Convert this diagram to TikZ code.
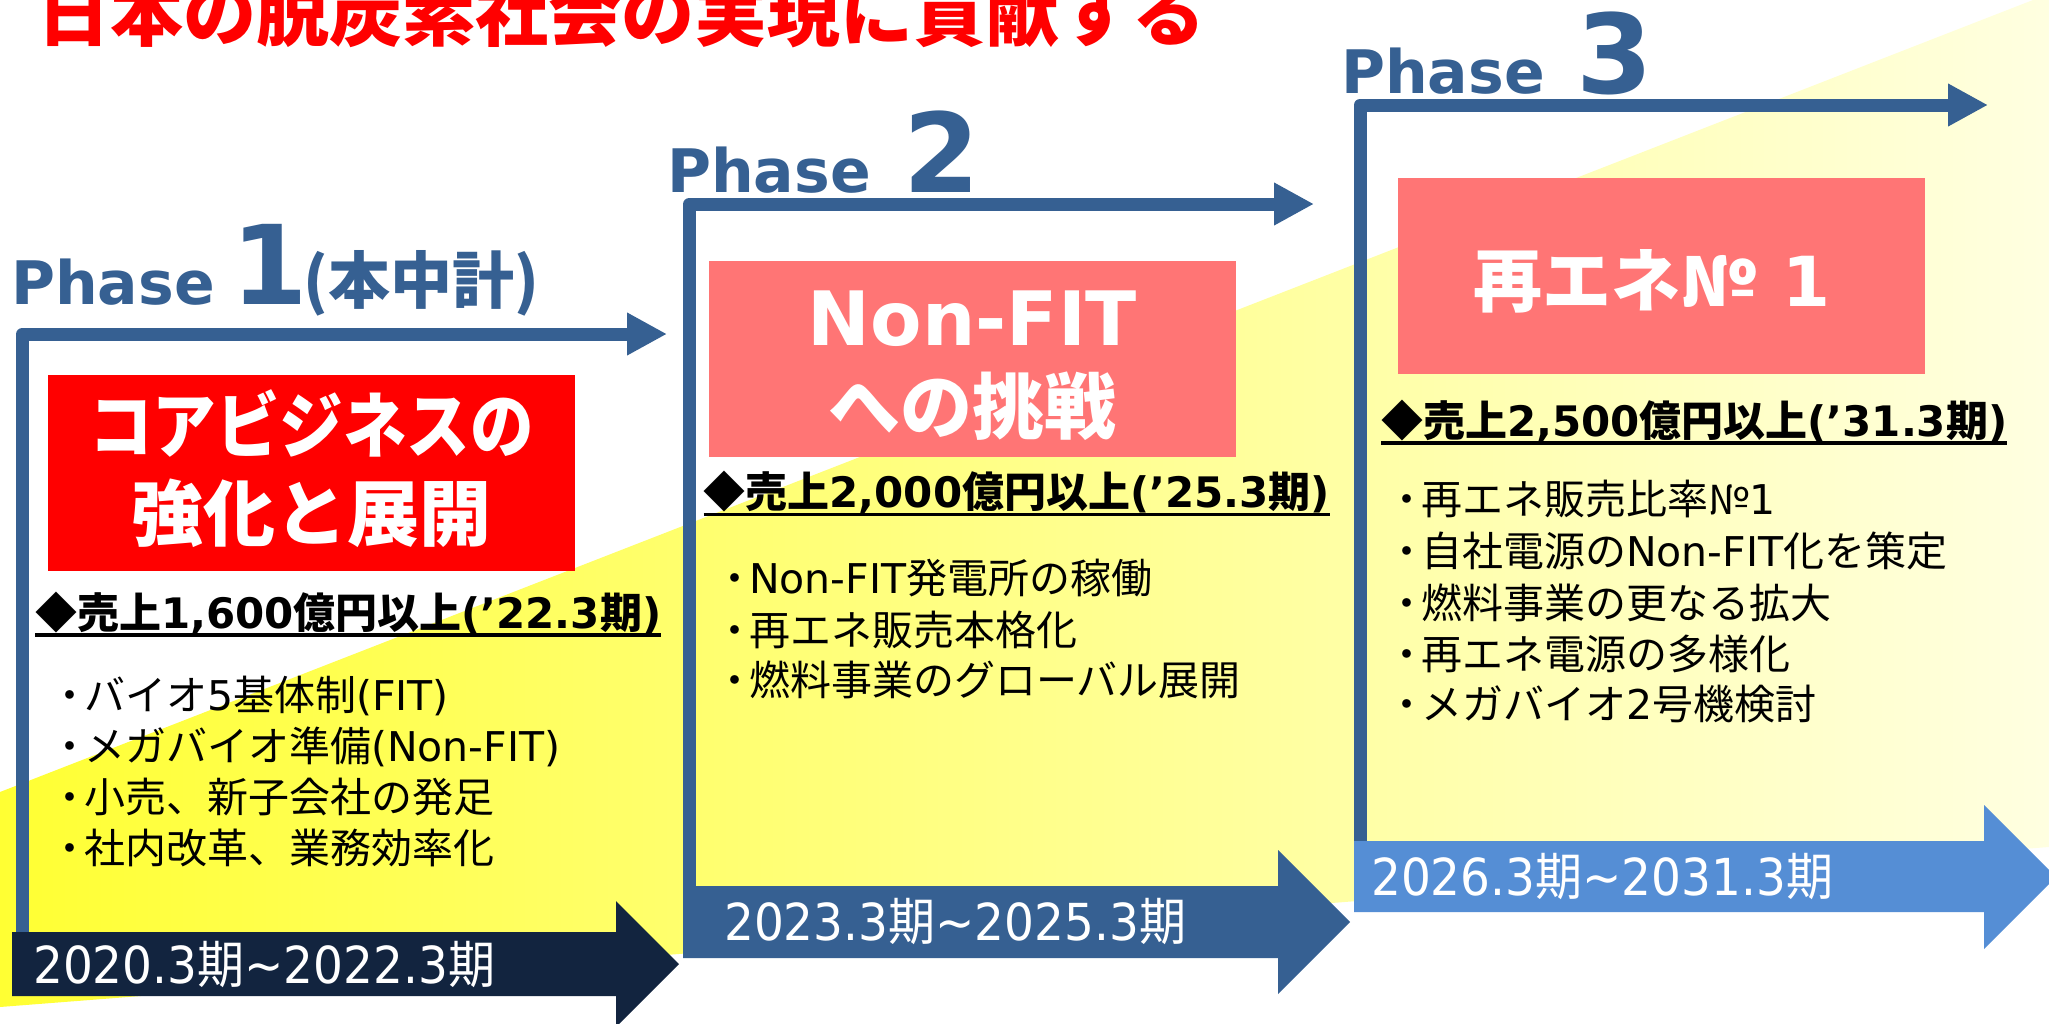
\documentclass[tikz,border=0pt]{standalone}
\usepackage{fontspec}
\usepackage{graphicx}
\setmainfont{DejaVu Sans}
\newfontfamily\jp{Noto Sans CJK JP}
\usetikzlibrary{arrows.meta}
\definecolor{frameblue}{HTML}{366092}
\definecolor{navyarrow}{HTML}{12243F}
\definecolor{lightarrow}{HTML}{558ED5}
\definecolor{salmonbox}{HTML}{FF7575}
\definecolor{yl}{RGB}{255,255,51}
\definecolor{yr}{RGB}{255,255,229}
\newcommand\J[1]{{\jp #1}}
\newcommand\fsz[1]{\fontsize{#1}{#1}\selectfont}
\tikzset{
  plline/.style={draw=frameblue, line width=13pt, line join=round, -{Triangle[length=40pt,width=40pt]}},
  pbox/.style={minimum width=527pt, minimum height=196pt, inner sep=0pt, draw=none},
  pboxtxt/.style={inner sep=0pt, anchor=base, text=white, font=\bfseries\fsz{72}},
  ptxt/.style={inner sep=0pt, anchor=base west},
  pbul/.style={ptxt, font=\fsz{41}},
  psales/.style={ptxt, font=\bfseries\fsz{42}},
  pdate/.style={ptxt, text=white, font=\fsz{51}},
  puline/.style={line width=3.5pt, black},
  pphase/.style={ptxt, text=frameblue, font=\bfseries\fsz{60}},
  pnum/.style={inner sep=0pt, anchor=base, text=frameblue, font=\bfseries\fsz{110}},
}
\begin{document}
\begin{tikzpicture}[x=1pt,y=-1pt]
\path[use as bounding box] (0,0) rectangle (2049,1023);
\clip (0,0) rectangle (2049,1023);
\fill[white] (0,0) rectangle (2049,1023);
\shade[left color=yl, right color=yr] (0,792) -- (2033,0) -- (2100,-26) -- (2100,843) -- (0,1007) -- cycle;

% title
\node[ptxt, text=red, font=\bfseries\fsz{73}] (title) at (37,40) {\J{日本の脱炭素社会の実現に貢献する}};

% phase frames
\coordinate (f1a) at (22.5,945); \coordinate (f1b) at (22.5,334); \coordinate (f1c) at (667,334);
\coordinate (f2a) at (689.5,900); \coordinate (f2b) at (689.5,204); \coordinate (f2c) at (1314,204);
\coordinate (f3a) at (1360,860); \coordinate (f3b) at (1360,105); \coordinate (f3c) at (1988,105);
\draw[plline] (f1a) -- (f1b) -- (f1c);
\draw[plline] (f2a) -- (f2b) -- (f2c);
\draw[plline] (f3a) -- (f3b) -- (f3c);

% bottom period arrows
\fill[navyarrow] (12,932) -- (616,932) -- (616,901) -- (679,964) -- (616,1027) -- (616,996) -- (12,996) -- cycle;
\fill[frameblue] (683,886) -- (1278,886) -- (1278,850) -- (1350,922) -- (1278,994) -- (1278,958) -- (683,958) -- cycle;
\fill[lightarrow] (1354,841) -- (1984,841) -- (1984,805) -- (2056,877) -- (1984,949) -- (1984,912) -- (1354,912) -- cycle;

\node[pdate] (d1) at (33,983) {\resizebox{462pt}{\height}{2020.3\J{期}\textasciitilde 2022.3\J{期}}};
\node[pdate] (d2) at (724,940) {\resizebox{462pt}{\height}{2023.3\J{期}\textasciitilde 2025.3\J{期}}};
\node[pdate] (d3) at (1371,895) {\resizebox{462pt}{\height}{2026.3\J{期}\textasciitilde 2031.3\J{期}}};

% boxes
\node[pbox, fill=red] (b1) at (311.5,473) {};
\node[pbox, fill=salmonbox] (b2) at (972.5,358.5) {};
\node[pbox, fill=salmonbox] (b3) at (1661,275.5) {};
\node[pboxtxt] (b1t1) at (311.5,452) {\resizebox{445pt}{\height}{\J{コアビジネスの}}};
\node[pboxtxt] (b1t2) at (311.5,540) {\J{強化と展開}};
\node[pboxtxt, font=\bfseries\fsz{75}] (b2t1) at (972.5,345) {Non-FIT};
\node[pboxtxt] (b2t2) at (972.5,433) {\J{への挑戦}};
\node[pboxtxt, font=\bfseries\fsz{69}] (b3t) at (1652,306) {\J{再エネ№} 1};

% phase labels
\node[pphase] (p1) at (11,304) {Phase};
\node[pnum] (n1) at (270,304) {1};
\node[ptxt, text=frameblue, font=\bfseries\fsz{62}] (p1x) at (303,303) {\J{(本中計)}};
\node[pphase] (p2) at (667,192) {Phase};
\node[pnum] (n2) at (942,192) {2};
\node[pphase] (p3) at (1341,93) {Phase};
\node[pnum] (n3) at (1615,93.5) {3};

% sales targets
\node[psales] (s1) at (35,628) {\resizebox{626pt}{\height}{\J{◆売上}1,600\J{億円以上}(’22.3\J{期})}};
\node[psales] (s2) at (703.5,507.5) {\resizebox{626pt}{\height}{\J{◆売上}2,000\J{億円以上}(’25.3\J{期})}};
\node[psales] (s3) at (1381,436) {\resizebox{626pt}{\height}{\J{◆売上}2,500\J{億円以上}(’31.3\J{期})}};
\draw[puline] ([yshift=-7pt]s1.base west) -- ([yshift=-7pt]s1.base east);
\draw[puline] ([yshift=-7pt]s2.base west) -- ([yshift=-7pt]s2.base east);
\draw[puline] ([yshift=-7pt]s3.base west) -- ([yshift=-7pt]s3.base east);

% bullets phase 1
\node[pbul] (a1) at (49,710) {\J{・\kern-6pt バイオ}5\J{基体制}(FIT)};
\node[pbul] (a2) at (49,761) {\J{・\kern-6pt メガバイオ準備}(Non-FIT)};
\node[pbul] (a3) at (49,812) {\J{・\kern-6pt 小売、新子会社の発足}};
\node[pbul] (a4) at (49,863) {\J{・\kern-6pt 社内改革、業務効率化}};
% bullets phase 2
\node[pbul] (c1) at (714,593) {\J{・\kern-6pt}Non-FIT\J{発電所の稼働}};
\node[pbul] (c2) at (714,645) {\J{・\kern-6pt 再エネ販売本格化}};
\node[pbul] (c3) at (714,695) {\J{・\kern-6pt 燃料事業のグローバル展開}};
% bullets phase 3
\node[pbul] (e1) at (1386,514) {\J{・\kern-6pt 再エネ販売比率№}1};
\node[pbul] (e2) at (1386,566) {\J{・\kern-6pt 自社電源の}Non-FIT\J{化を策定}};
\node[pbul] (e3) at (1386,618) {\J{・\kern-6pt 燃料事業の更なる拡大}};
\node[pbul] (e4) at (1386,669) {\J{・\kern-6pt 再エネ電源の多様化}};
\node[pbul] (e5) at (1386,719) {\J{・\kern-6pt メガバイオ}2\J{号機検討}};
\end{tikzpicture}
\end{document}
